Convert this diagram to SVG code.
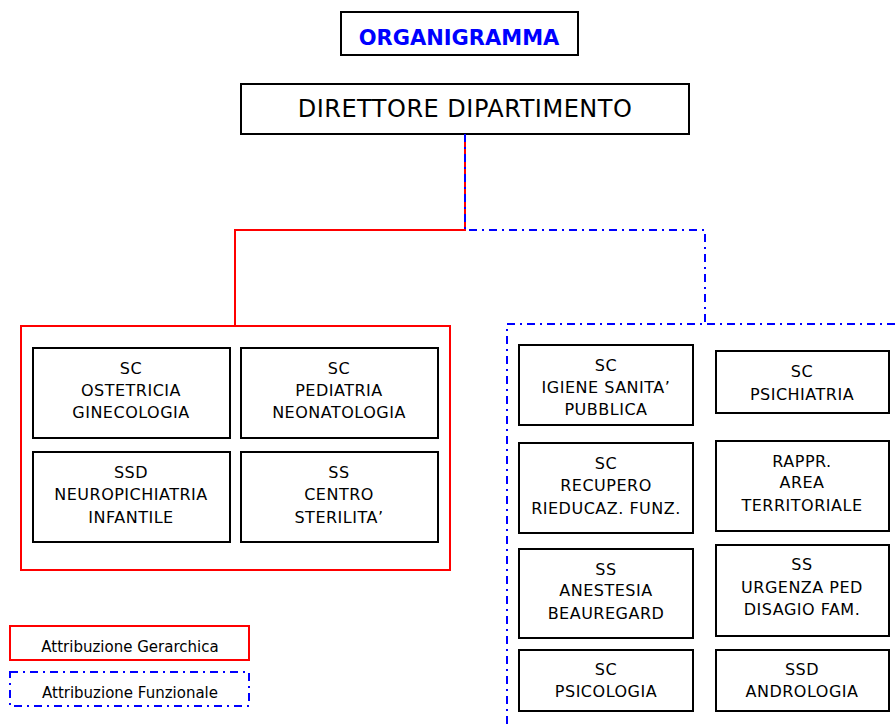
<svg xmlns="http://www.w3.org/2000/svg" width="896" height="726" viewBox="0 0 896 726">
<style>
text{font-family:"Comic Sans MS","DejaVu Sans",sans-serif;fill:#000;text-anchor:middle}
.n{fill:#fff;stroke:#000;stroke-width:2}
.t{font-size:16px;letter-spacing:0.5px}
.lg{font-size:15px}
.red{fill:none;stroke:#f00;stroke-width:2}
.blue{fill:none;stroke:#00f;stroke-width:2;stroke-dasharray:8 5 2 5}
</style>
<rect width="896" height="726" fill="#fff"/>
<g id="title"><rect class="n" x="341" y="12" width="237" height="43"/><text x="459" y="45" style="font-size:21px;font-weight:bold;fill:#00f">ORGANIGRAMMA</text></g>
<g id="direttore"><rect class="n" x="241" y="84" width="448" height="50"/><text x="465" y="117" style="font-size:24px;letter-spacing:0.5px">DIRETTORE DIPARTIMENTO</text></g>
<g id="connectors">
<polyline class="red" points="465,134 465,230 235,230 235,326"/>
<polyline class="blue" points="465,134 465,230 705,230 705,324"/>
</g>
<g id="group-gerarchica"><rect class="red" x="21" y="326" width="429" height="244"/></g>
<g id="group-funzionale"><rect class="blue" x="507" y="324" width="400" height="420"/></g>
<g id="ostetricia"><rect class="n" x="33" y="348" width="197" height="90"/><text class="t" x="131" y="374">SC</text><text class="t" x="131" y="396">OSTETRICIA</text><text class="t" x="131" y="418">GINECOLOGIA</text></g>
<g id="pediatria"><rect class="n" x="241" y="348" width="197" height="90"/><text class="t" x="339" y="374">SC</text><text class="t" x="339" y="396">PEDIATRIA</text><text class="t" x="339" y="418">NEONATOLOGIA</text></g>
<g id="neuro"><rect class="n" x="33" y="452" width="197" height="90"/><text class="t" x="131" y="478">SSD</text><text class="t" x="131" y="500">NEUROPICHIATRIA</text><text class="t" x="131" y="523">INFANTILE</text></g>
<g id="sterilita"><rect class="n" x="241" y="452" width="197" height="90"/><text class="t" x="339" y="478">SS</text><text class="t" x="339" y="500">CENTRO</text><text class="t" x="339" y="523">STERILITA’</text></g>
<g id="igiene"><rect class="n" x="519" y="345" width="174" height="80"/><text class="t" x="606" y="371">SC</text><text class="t" x="606" y="393">IGIENE SANITA’</text><text class="t" x="606" y="415">PUBBLICA</text></g>
<g id="psichiatria"><rect class="n" x="716" y="351" width="173" height="62"/><text class="t" x="802" y="377">SC</text><text class="t" x="802" y="400">PSICHIATRIA</text></g>
<g id="recupero"><rect class="n" x="519" y="443" width="174" height="90"/><text class="t" x="606" y="469">SC</text><text class="t" x="606" y="491">RECUPERO</text><text class="t" x="606" y="514">RIEDUCAZ. FUNZ.</text></g>
<g id="rappr"><rect class="n" x="716" y="441" width="173" height="90"/><text class="t" x="802" y="467">RAPPR.</text><text class="t" x="802" y="488">AREA</text><text class="t" x="802" y="511">TERRITORIALE</text></g>
<g id="anestesia"><rect class="n" x="519" y="549" width="174" height="89"/><text class="t" x="606" y="575">SS</text><text class="t" x="606" y="596">ANESTESIA</text><text class="t" x="606" y="619">BEAUREGARD</text></g>
<g id="urgenza"><rect class="n" x="716" y="545" width="173" height="91"/><text class="t" x="802" y="570">SS</text><text class="t" x="802" y="593">URGENZA PED</text><text class="t" x="802" y="615">DISAGIO FAM.</text></g>
<g id="psicologia"><rect class="n" x="519" y="650" width="174" height="61"/><text class="t" x="606" y="675">SC</text><text class="t" x="606" y="697">PSICOLOGIA</text></g>
<g id="andrologia"><rect class="n" x="716" y="650" width="173" height="61"/><text class="t" x="802" y="675">SSD</text><text class="t" x="802" y="697">ANDROLOGIA</text></g>
<g id="legend-gerarchica"><rect class="red" x="10" y="626" width="239" height="34"/><text class="lg" x="130" y="652">Attribuzione Gerarchica</text></g>
<g id="legend-funzionale"><rect class="blue" x="10" y="672" width="239" height="34"/><text class="lg" x="130" y="698">Attribuzione Funzionale</text></g>
</svg>
